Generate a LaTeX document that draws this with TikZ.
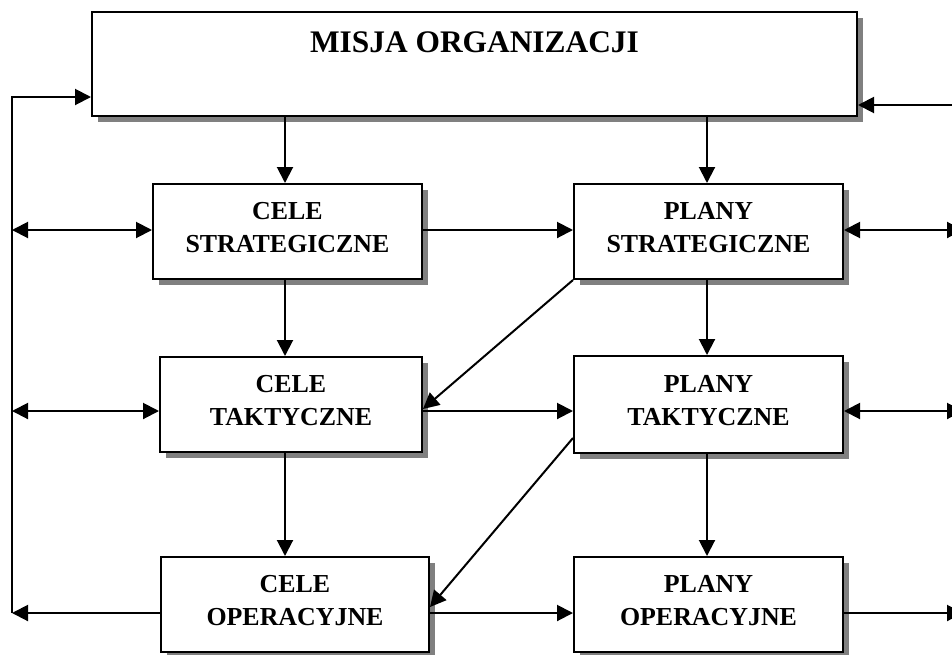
\documentclass[tikz,border=0pt]{standalone}
\usepackage{fontspec}
\setmainfont{Liberation Serif}
\usetikzlibrary{arrows.meta,shadows}
\definecolor{shade}{HTML}{808080}
\tikzset{
  box/.style={draw, line width=2pt, fill=white,
    drop shadow={shadow xshift=6pt, shadow yshift=-6pt, fill=shade, opacity=1},
    inner sep=0pt, align=center,
    font=\bfseries\fontsize{25.9}{33}\selectfont, text depth=9pt},
  tip/.tip={Triangle[length=16pt,width=16pt]},
  link/.style={line width=2pt, -tip},
  both/.style={line width=2pt, tip-tip}
}
\begin{document}
\begin{tikzpicture}[x=1pt,y=-1pt]
  \useasboundingbox (0,0) rectangle (952,654);
  \clip (0,0) rectangle (952,654);

  % boxes
  \node[box, minimum width=765pt, minimum height=104pt,
        font=\bfseries\fontsize{31.4}{36}\selectfont, text depth=43pt]
        (mis) at (474.5,64) {MISJA ORGANIZACJI};
  \node[box, minimum width=269pt, minimum height=95pt] (cs) at (287.5,231.5) {CELE\\STRATEGICZNE};
  \node[box, minimum width=269pt, minimum height=95pt] (ps) at (708.5,231.5) {PLANY\\STRATEGICZNE};
  \node[box, minimum width=262pt, minimum height=95pt] (ct) at (291,404.5) {CELE\\TAKTYCZNE};
  \node[box, minimum width=269pt, minimum height=97pt] (pt) at (708.5,404.5) {PLANY\\TAKTYCZNE};
  \node[box, minimum width=268pt, minimum height=95pt] (co) at (295,604.5) {CELE\\OPERACYJNE};
  \node[box, minimum width=269pt, minimum height=95pt] (po) at (708.5,604.5) {PLANY\\OPERACYJNE};

  % helper coordinates for columns, rows and the outer buses
  \coordinate (colL) at (285,0);
  \coordinate (colR) at (707,0);
  \coordinate (row0L) at (12,97);
  \coordinate (row0R) at (963,105);
  \coordinate (row1) at (0,230);
  \coordinate (row2) at (0,411);
  \coordinate (row3) at (0,613);
  \coordinate (diagA) at (0,409);
  \coordinate (diagB) at (0,438);
  \coordinate (diagC) at (0,607);
  \coordinate (busL) at (12,0);
  \coordinate (edgeR) at (963,0);

  % vertical flow
  \draw[link] (mis.south -| colL) -- (cs.north -| colL);
  \draw[link] (mis.south -| colR) -- (ps.north -| colR);
  \draw[link] (cs.south -| colL) -- (ct.north -| colL);
  \draw[link] (ps.south -| colR) -- (pt.north -| colR);
  \draw[link] (ct.south -| colL) -- (co.north -| colL);
  \draw[link] (pt.south -| colR) -- (po.north -| colR);

  % horizontal flow
  \draw[link] (cs.east |- row1) -- (ps.west |- row1);
  \draw[link] (ct.east |- row2) -- (pt.west |- row2);
  \draw[link] (co.east |- row3) -- (po.west |- row3);

  % diagonals
  \draw[link] (ps.south west) -- (ct.east |- diagA);
  \draw[link] (pt.west |- diagB) -- (co.east |- diagC);

  % left feedback bus
  \draw[link] (co.west |- row3) -- (busL |- row3);
  \draw[link] (busL |- row3) -- (row0L) -- (mis.west |- row0L);
  \draw[both] (busL |- row1) -- (cs.west |- row1);
  \draw[both] (busL |- row2) -- (ct.west |- row2);

  % right side
  \draw[link] (row0R) -- (mis.east |- row0R);
  \draw[both] (ps.east |- row1) -- (edgeR |- row1);
  \draw[both] (pt.east |- row2) -- (edgeR |- row2);
  \draw[link] (po.east |- row3) -- (edgeR |- row3);
\end{tikzpicture}
\end{document}
